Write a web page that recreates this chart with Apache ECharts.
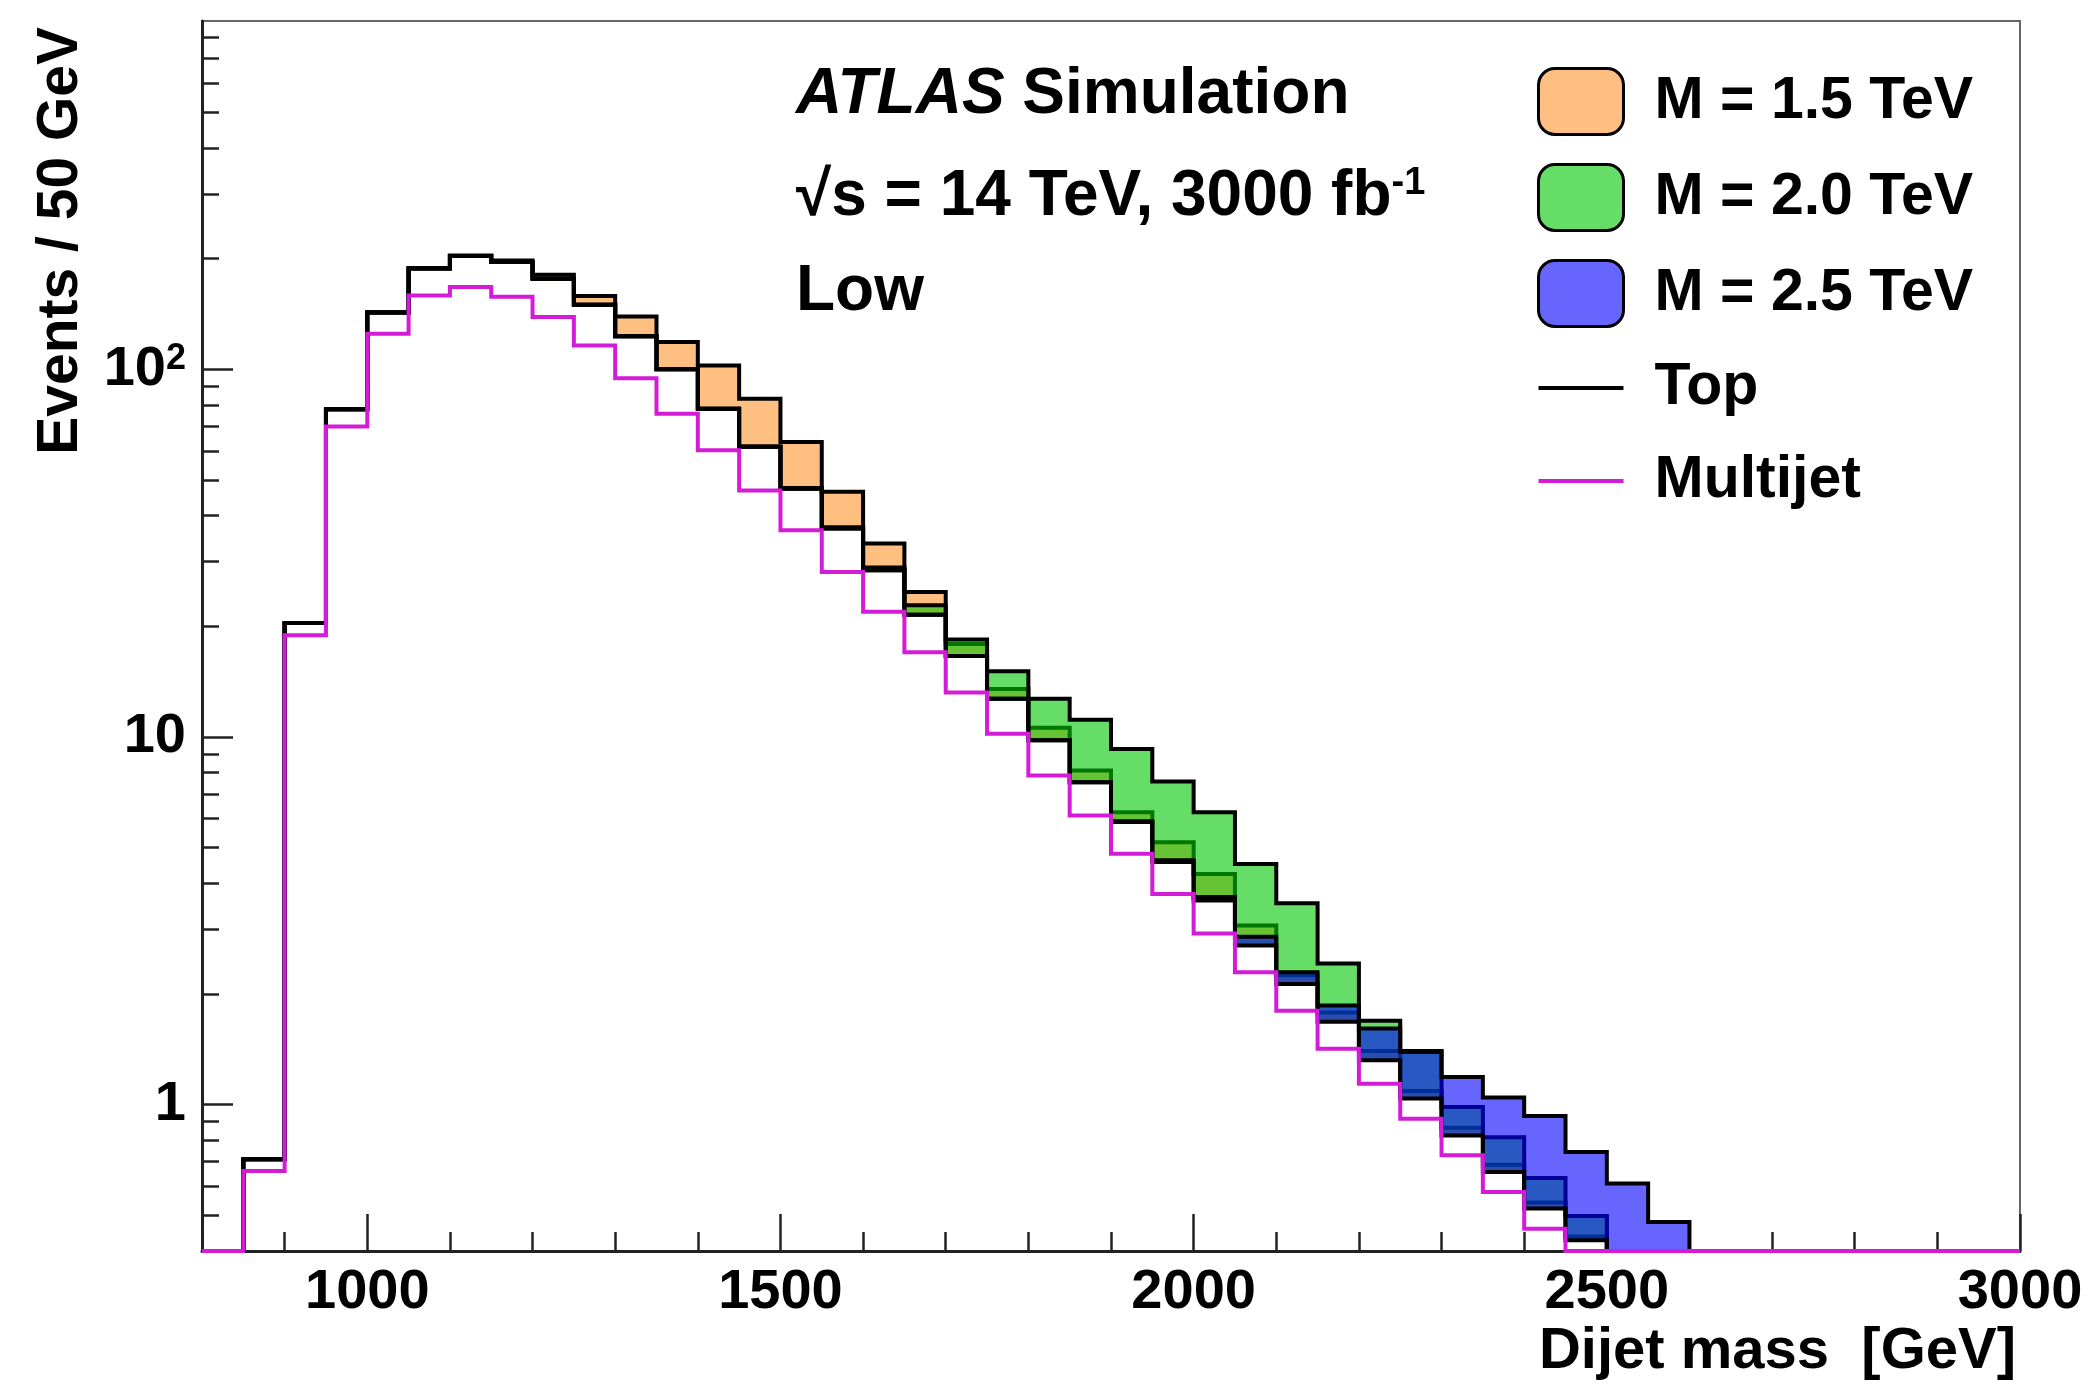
<!DOCTYPE html>
<html>
<head>
<meta charset="utf-8">
<script src="https://cdn.jsdelivr.net/npm/echarts@6/dist/echarts.min.js"></script>
<style>html,body{margin:0;padding:0;background:#fff}#chart{width:2090px;height:1384px}</style>
</head>
<body>
<div id="chart"></div>
<script>
// ---- data (bins of 50 GeV) ----
const binEdges = [800,850,900,950,1000,1050,1100,1150,1200,1250,1300,1350,1400,1450,1500,1550,1600,1650,1700,1750,1800,1850,1900,1950,2000,2050,2100,2150,2200,2250,2300,2350,2400,2450,2500,2550,2600,2650,2700,2750,2800,2850,2900,2950,3000];
const multijet = [0,0.66,18.9,69.9,124.9,158.7,167.3,157.3,138.6,116.1,94.5,75.7,60.2,46.8,36.5,28.1,21.9,17.0,13.2,10.2,7.85,6.11,4.81,3.74,2.92,2.29,1.80,1.42,1.14,0.916,0.728,0.579,0.46,0.38,0.30,0.24,0,0,0,0,0,0,0,0];
const topQuark = [0,0.05,1.5,7.9,17.7,29.3,35.8,38.5,37.6,33.6,28.4,24.3,17.9,14.7,10.8,8.8,6.5,4.5,3.4,2.5,1.95,1.42,1.06,0.83,0.67,0.42,0.33,0.26,0.18,0.124,0.097,0.077,0.062,0.048,0.04,0.03,0,0,0,0,0,0,0,0];
const signal15 = [0,0,0,0,0.2,0.4,0.8,1.8,4.5,8.4,16.2,18.6,24.3,21.6,16.1,9.5,5.2,3.3,1.3,0.8,0.8,0.57,0.37,0.6,0.65,0.36,0.12,0.1,0.08,0.05,0.04,0.03,0.02,0.01,0,0,0,0,0,0,0,0,0,0];
const signal20 = [0,0,0,0,0,0,0,0,0,0,0,0,0,0.1,0.2,0.3,0.5,1.3,1.8,2.4,2.9,3.6,3.4,3.0,2.65,1.8,1.4,0.74,0.37,0.36,0.16,0.16,0.11,0.07,0.03,0.01,0,0,0,0,0,0,0,0];
const signal25 = [0,0,0,0,0,0,0,0,0,0,0,0,0,0,0,0,0,0,0,0,0,0,0.03,0.05,0.08,0.15,0.16,0.18,0.29,0.35,0.365,0.39,0.41,0.316,0.27,0.21,0,0,0,0,0,0,0,0];
const xTickLabels = [1000,1500,2000,2500,3000];
const yTickLabels = [1,10,100];
const yMinorTicks = [0.5,0.6,0.7,0.8,0.9,2,3,4,5,6,7,8,9,20,30,40,50,60,70,80,90,200,300,400,500,600,700,800];

// ---- styling ----
const FONT = '"Liberation Sans", Arial, Helvetica, sans-serif';
const Y_MIN = 0.4, Y_MAX = 885, X_MIN = 800, X_MAX = 3000;
const MAGENTA = '#d41cd8';
const LINE_ICON = 'path://M0,0h85v0.01h-85z M0,31h85v4h-85z M0,66h85v0.01h-85z';

const bkg = multijet.map((v, i) => v + topQuark[i]);
const sigTotal = sig => sig.map((s, i) => bkg[i] + s);

function bandData(sig) {
  return sig.map((s, i) => [binEdges[i], binEdges[i + 1], Math.max(bkg[i], Y_MIN), Math.max(bkg[i] + s, Y_MIN)]);
}
function stepData(vals) {
  return binEdges.map((e, i) => [e, Math.max(vals[Math.min(i, vals.length - 1)], Y_MIN)]);
}
function fillSeries(name, sig, color, z) {
  return {
    type: 'custom', name, z, silent: true, clip: true,
    data: bandData(sig),
    encode: { x: [0, 1], y: [2, 3] },
    itemStyle: { color },
    renderItem(params, api) {
      const lo = api.value(2), hi = api.value(3);
      if (!(hi > lo)) return null;
      const p0 = api.coord([api.value(0), hi]);
      const p1 = api.coord([api.value(1), lo]);
      const l = Math.round(p0[0]), r = Math.round(p1[0]);
      return { type: 'rect', shape: { x: l, y: p0[1], width: r - l, height: p1[1] - p0[1] }, style: { fill: color } };
    }
  };
}
function lineSeries(name, vals, color, width, z) {
  return {
    type: 'line', name, z, silent: true, clip: true,
    data: stepData(vals), step: 'end', symbol: 'none', showSymbol: false,
    lineStyle: { color, width, join: 'miter' }, itemStyle: { color }
  };
}

const chart = echarts.init(document.getElementById('chart'), null, { renderer: 'canvas' });
const labelStyle = { fontFamily: FONT, fontWeight: 'bold', fontSize: 56, color: '#000' };

chart.setOption({
  animation: false,
  backgroundColor: '#fff',
  grid: { left: 202, right: 70, top: 21, bottom: 133, show: true, borderColor: '#666', borderWidth: 2, backgroundColor: 'transparent', outerBoundsMode: 'none' },
  xAxis: [
    { type: 'value', min: X_MIN, max: X_MAX, interval: 100,
      axisLine: { show: true, onZero: false, lineStyle: { color: '#222', width: 3 } },
      axisTick: { show: true, inside: true, length: 19, lineStyle: { color: '#222', width: 2.5 } },
      axisLabel: { show: false }, splitLine: { show: false } },
    { type: 'value', min: X_MIN, max: X_MAX, position: 'bottom',
      axisLine: { show: false, onZero: false },
      axisTick: { show: true, inside: true, length: 37, customValues: xTickLabels, lineStyle: { color: '#222', width: 2.5 } },
      axisLabel: Object.assign({ show: true, margin: 14, customValues: xTickLabels, formatter: v => String(Math.round(v)) }, labelStyle),
      splitLine: { show: false } }
  ],
  yAxis: [
    { type: 'log', logBase: 10, min: Y_MIN, max: Y_MAX,
      axisLine: { show: true, onZero: false, lineStyle: { color: '#222', width: 3 } },
      axisTick: { show: true, inside: true, length: 31, customValues: yTickLabels, lineStyle: { color: '#222', width: 2.5 } },
      axisLabel: Object.assign({
        show: true, margin: 16, customValues: yTickLabels,
        formatter: v => { const r = Math.round(v); if (r === 100) return '{b|10}{sup|2}'; if (r === 10) return '{b|10}'; if (r === 1) return '{b|1}'; return ''; },
        rich: {
          b: { fontFamily: FONT, fontWeight: 'bold', fontSize: 56, color: '#000', verticalAlign: 'middle' },
          sup: { fontFamily: FONT, fontWeight: 'bold', fontSize: 36, color: '#000', verticalAlign: 'top' }
        }
      }, labelStyle),
      splitLine: { show: false } },
    { type: 'log', logBase: 10, min: Y_MIN, max: Y_MAX, position: 'left',
      axisLine: { show: false, onZero: false },
      axisTick: { show: true, inside: true, length: 17, customValues: yMinorTicks, lineStyle: { color: '#222', width: 2.5 } },
      axisLabel: { show: false }, splitLine: { show: false } }
  ],
  legend: {
    orient: 'vertical', left: 1532, top: 62, itemWidth: 85, itemHeight: 66, itemGap: 27, selectedMode: false,
    textStyle: { fontFamily: FONT, fontWeight: 'bold', fontSize: 59, color: '#000', padding: [0, 0, 0, 26] },
    data: [
      { name: 'M = 1.5 TeV', icon: 'roundRect', itemStyle: { color: '#FFBF80', borderColor: '#000', borderWidth: 3 } },
      { name: 'M = 2.0 TeV', icon: 'roundRect', itemStyle: { color: '#66DD66', borderColor: '#000', borderWidth: 3 } },
      { name: 'M = 2.5 TeV', icon: 'roundRect', itemStyle: { color: '#6666FF', borderColor: '#000', borderWidth: 3 } },
      { name: 'Top', icon: LINE_ICON, itemStyle: { color: '#000', borderWidth: 0 } },
      { name: 'Multijet', icon: LINE_ICON, itemStyle: { color: MAGENTA, borderWidth: 0 } }
    ]
  },
  graphic: [
    { type: 'text', x: 796, y: 95, style: { text: '{i|ATLAS} Simulation', fontFamily: FONT, fontWeight: 'bold', fontSize: 64, fill: '#000', align: 'left', verticalAlign: 'middle',
        rich: { i: { fontFamily: FONT, fontWeight: 'bold', fontStyle: 'italic', fontSize: 64, fill: '#000' } } } },
    { type: 'text', x: 796, y: 197, style: { text: '√s = 14 TeV, 3000 fb{sup|-1}', fontFamily: FONT, fontWeight: 'bold', fontSize: 64, fill: '#000', align: 'left', verticalAlign: 'middle',
        rich: { sup: { fontFamily: FONT, fontWeight: 'bold', fontSize: 38, fill: '#000', verticalAlign: 'top' } } } },
    { type: 'text', x: 796, y: 292, style: { text: 'Low', fontFamily: FONT, fontWeight: 'bold', fontSize: 64, fill: '#000', align: 'left', verticalAlign: 'middle' } },
    { type: 'text', x: 2016, y: 1352, style: { text: 'Dijet mass  [GeV]', fontFamily: FONT, fontWeight: 'bold', fontSize: 58, fill: '#000', align: 'right', verticalAlign: 'middle' } },
    { type: 'text', x: 61, y: 27, rotation: Math.PI / 2, style: { text: 'Events / 50 GeV', fontFamily: FONT, fontWeight: 'bold', fontSize: 57, fill: '#000', align: 'right', verticalAlign: 'middle' } }
  ],
  series: [
    fillSeries('M = 1.5 TeV', signal15, 'rgba(255,148,43,0.6)', 2),
    lineSeries('M = 1.5 TeV outline', sigTotal(signal15), '#000', 4, 3),
    fillSeries('M = 2.0 TeV', signal20, 'rgba(0,198,0,0.6)', 4),
    lineSeries('M = 2.0 TeV outline', sigTotal(signal20), '#000', 4, 5),
    fillSeries('M = 2.5 TeV', signal25, 'rgba(0,0,255,0.6)', 6),
    lineSeries('M = 2.5 TeV outline', sigTotal(signal25), '#000', 4, 7),
    lineSeries('Top', bkg, '#000', 4, 8),
    lineSeries('Multijet', multijet, MAGENTA, 4, 9)
  ]
});
</script>
</body>
</html>
